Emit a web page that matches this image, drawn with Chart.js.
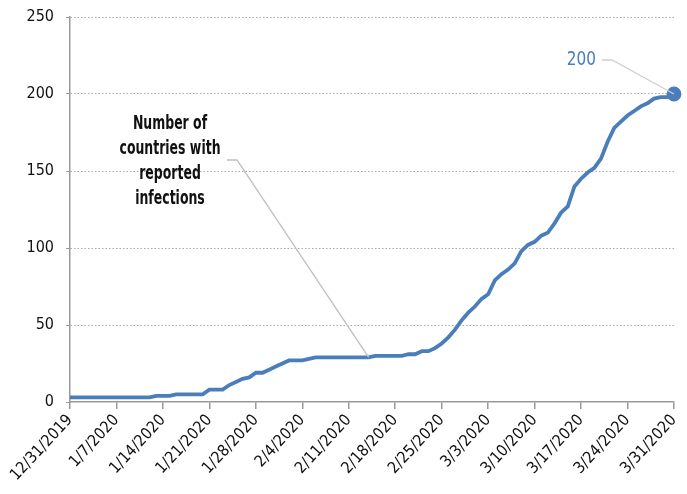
<!DOCTYPE html>
<html>
<head>
<meta charset="utf-8">
<script src="https://cdn.jsdelivr.net/npm/chart.js@4/dist/chart.umd.min.js"></script>
<style>
  html, body { margin: 0; padding: 0; background: #fff; }
  #wrap { width: 687px; height: 494px; }
</style>
</head>
<body>
<div id="wrap"><canvas id="grafico"></canvas></div>
<script>
// one label per week, 12/31/2019 .. 3/31/2020
var etichetteSettimane = ['12/31/2019', '1/7/2020', '1/14/2020', '1/21/2020', '1/28/2020', '2/4/2020', '2/11/2020',
    '2/18/2020', '2/25/2020', '3/3/2020', '3/10/2020', '3/17/2020', '3/24/2020', '3/31/2020'];

// countries with reported infections, one value per day from 12/31/2019
var paesiInfetti = [3, 3, 3, 3, 3, 3, 3, 3, 3, 3, 3, 3, 3,
    4, 4, 4, 5, 5, 5, 5, 5, 8, 8, 8, 11, 13, 15, 16, 19, 19, 21, 23, 25, 27, 27, 27, 28,
    29, 29, 29, 29, 29, 29, 29, 29, 29,
    30, 30, 30, 30, 30,
    31, 31, 33, 33, 35, 38, 42, 47, 53, 58, 62, 67, 70, 79, 83, 86, 90, 98, 102, 104, 108, 110,
    116, 123, 127, 140, 145, 149, 152, 158, 169, 178, 182, 186, 189, 192, 194, 197, 198, 198, 200];

var testoNota = ['Number of', 'countries with', 'reported', 'infections'];
var giornoNota = 45;
var valoreFinale = '200';

var fontBase = "'Liberation Sans Narrow', 'DejaVu Sans Condensed', sans-serif";
var blu = '#4a7ebb';

var punti = [];
for (var i = 0; i < paesiInfetti.length; i++) {
    punti.push({ x: i, y: paesiInfetti[i] });
}
var ultimo = paesiInfetti.length - 1;

// annotazioni con linee guida
var pluginNote = {
    id: 'note',
    afterDatasetsDraw: function (chart) {
        var ctx = chart.ctx;
        var sx = chart.scales.x;
        var sy = chart.scales.y;
        ctx.save();

        // leader lines first, text on top
        var px = sx.getPixelForValue(giornoNota);
        var py = sy.getPixelForValue(paesiInfetti[giornoNota]);
        ctx.strokeStyle = '#bfbfbf';
        ctx.lineWidth = 1.3;
        ctx.beginPath();
        ctx.moveTo(227, 160);
        ctx.lineTo(237, 160);
        ctx.lineTo(px, py);
        ctx.stroke();

        var ex = sx.getPixelForValue(ultimo);
        var ey = sy.getPixelForValue(paesiInfetti[ultimo]);
        ctx.strokeStyle = '#d0d0d0';
        ctx.beginPath();
        ctx.moveTo(602, 60);
        ctx.lineTo(612, 60);
        ctx.lineTo(ex, ey);
        ctx.stroke();

        // nota a sinistra, testo condensato
        ctx.save();
        ctx.translate(170, 0);
        ctx.scale(0.73, 1);
        ctx.font = 'bold 19px ' + fontBase;
        ctx.fillStyle = '#111';
        ctx.textAlign = 'center';
        ctx.textBaseline = 'middle';
        for (var k = 0; k < testoNota.length; k++) {
            ctx.fillText(testoNota[k], 0, 124 + k * 25);
        }
        ctx.restore();

        // valore finale
        ctx.save();
        ctx.translate(596, 60);
        ctx.scale(0.85, 1);
        ctx.font = '20px ' + fontBase;
        ctx.fillStyle = blu;
        ctx.textAlign = 'right';
        ctx.textBaseline = 'middle';
        ctx.fillText(valoreFinale, 0, 0);
        ctx.restore();

        ctx.restore();
    }
};

var chart = new Chart(document.getElementById('grafico'), {
    type: 'line',
    data: {
        datasets: [{
            data: punti,
            borderColor: blu,
            backgroundColor: blu,
            borderWidth: 3.8,
            lineTension: 0,
            clip: false,
            pointRadius: function (c) { return c.dataIndex === ultimo ? 5.5 : 0; },
            pointHoverRadius: 0
        }]
    },
    options: {
        responsive: true,
        maintainAspectRatio: false,
        animation: false,
        layout: { padding: { top: 17, right: 13, left: 0, bottom: 0 } },
        plugins: { legend: { display: false }, tooltip: { enabled: false } },
        scales: {
            x: {
                type: 'linear',
                min: 0,
                max: ultimo,
                afterFit: function (s) { s.height = 92; s.paddingRight = 0; },
                border: { color: '#999', width: 1.5 },
                grid: { drawOnChartArea: false, color: '#999', tickLength: 7, lineWidth: 1.5 },
                ticks: {
                    stepSize: 7,
                    autoSkip: false,
                    minRotation: 47,
                    maxRotation: 47,
                    padding: 2,
                    color: '#111',
                    font: { family: fontBase, size: 16 },
                    callback: function (v) { return etichetteSettimane[v / 7]; }
                }
            },
            y: {
                min: 0,
                max: 250,
                afterFit: function (s) { s.width = 70; s.paddingTop = 0; s.paddingBottom = 0; },
                border: { color: '#999', width: 1.5, dash: [1.5, 2] },
                grid: {
                    color: function (c) { return c.tick.value === 0 ? 'rgba(0,0,0,0)' : '#aaa'; },
                    tickBorderDash: [1, 0],
                    tickColor: '#999',
                    tickLength: 4,
                    lineWidth: 1
                },
                ticks: {
                    stepSize: 50,
                    padding: 12,
                    color: '#111',
                    font: { family: fontBase, size: 16 }
                }
            }
        }
    },
    plugins: [pluginNote]
});
</script>
</body>
</html>
